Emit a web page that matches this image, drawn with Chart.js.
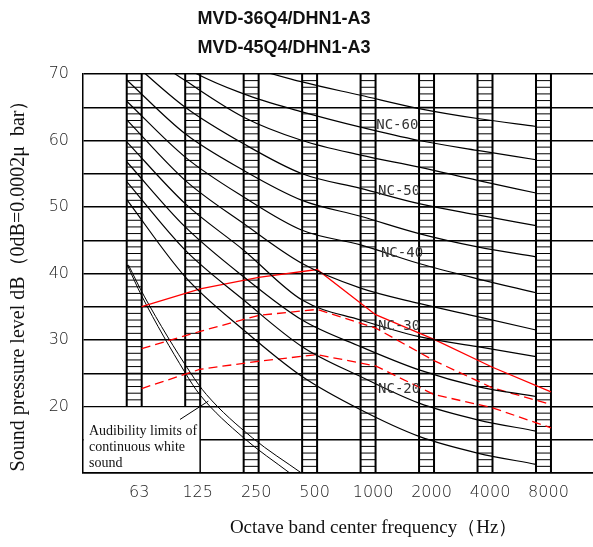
<!DOCTYPE html>
<html>
<head>
<meta charset="utf-8">
<script src="https://cdn.jsdelivr.net/npm/chart.js@4.4.1/dist/chart.umd.min.js"></script>
<style>
  html, body { margin: 0; padding: 0; background: #fff; }
  #wrap { width: 593px; height: 547px; }
</style>
</head>
<body>
<div id="wrap"><canvas id="myChart" width="593" height="547"></canvas></div>
<script>
const bands = ['63', '125', '250', '500', '1000', '2000', '4000', '8000'];

// NC curves as drawn on the sheet, dB per octave band
const nc15 = [51.1, 39.5, 31.5, 24.5, 19.5, 15.5, 13, 11.3];
const nc20 = [53.8, 43.5, 36, 29, 24.5, 20.5, 18, 16.3];
const nc25 = [56.8, 47, 39.5, 33, 29, 25.5, 23, 21.5];
const nc30 = [59.8, 50.5, 43.5, 36, 33, 30.5, 29, 27.5];
const nc35 = [63.1, 54, 47.5, 41.5, 37.8, 35.5, 33.5, 31.5];
const nc40 = [65.9, 57.5, 51.5, 46.5, 44.3, 41.5, 39.2, 37.1];
const nc45 = [69.1, 61, 55.5, 51, 48.6, 46, 44, 42.5];
const nc50 = [72.5, 65, 59.5, 55, 52.8, 50.5, 48.8, 47.2];
const nc55 = [75, 69, 63.5, 60, 57.8, 56, 54, 52.1];
const nc60 = [78, 71, 67, 64.3, 62, 60, 58.5, 57.1];
const nc65 = [82, 76.5, 71.5, 68.8, 66.8, 64.8, 63.3, 62.1];

// measured unit levels (red)
const levelHigh = [35.0, 37.7, 39.4, 40.6, 33.8, 30.1, 25.9, 22.2];
const levelMid = [28.7, 31.3, 33.7, 34.6, 31.8, 26.9, 22.8, 20.3];
const levelLow = [22.7, 25.6, 26.8, 27.8, 26.1, 21.8, 19.8, 16.8];

// audibility limits of continuous white sound (x in band units)
const audibleX1 = [-0.12, 0.13, 0.87, 1.12, 1.87, 2.66];
const audibleX2 = [-0.10, 0.17, 0.96, 1.235, 2.02, 2.86];
const audibleDb = [41.3, 36.6, 25.1, 21.8, 15.3, 10];
const leaderX = [0.783, 1.267];
const leaderDb = [18.05, 20.8];

const ncLabels = ['NC-60', 'NC-50', 'NC-40', 'NC-30', 'NC-20'];
const ncLabelX = [4.14, 4.17, 4.22, 4.17, 4.17];
const ncLabelDb = [62.3, 52.3, 43.1, 32.0, 22.6];
const boxText = ['Audibility limits of', 'continuous white', 'sound'];

const OFF = 0.128; // half width of a band column

const pts = (vals, dx) => vals.map((v, i) => ({ x: i + dx, y: v }));
const zip = (xs, ys) => xs.map((x, i) => ({ x: x, y: ys[i] }));

function ncSet(vals) {
    return {
        data: pts(vals, -OFF),
        borderColor: '#000',
        borderWidth: 1.2,
        cubicInterpolationMode: 'monotone',
        pointRadius: 0,
        fill: false
    };
}

function redSet(vals, dash) {
    return {
        data: pts(vals, OFF),
        borderColor: '#ff0000',
        borderWidth: 1.3,
        borderDash: dash,
        tension: 0,
        pointRadius: 0,
        fill: false
    };
}

const bandColumns = {
    id: 'bandColumns',
    beforeDatasetsDraw(chart) {
        const { ctx, chartArea, scales: { x, y } } = chart;
        ctx.save();
        ctx.strokeStyle = '#000';
        bands.forEach((b, i) => {
            const x0 = x.getPixelForValue(i - OFF);
            const x1 = x.getPixelForValue(i + OFF);
            const bottomDb = i < 2 ? 20 : 10;
            const yTop = y.getPixelForValue(70);
            const yBot = y.getPixelForValue(bottomDb);
            ctx.lineWidth = 1;
            for (let db = bottomDb + 1; db < 70; db++) {
                const yy = y.getPixelForValue(db);
                ctx.beginPath();
                ctx.moveTo(x0, yy);
                ctx.lineTo(x1, yy);
                ctx.stroke();
            }
            ctx.lineWidth = 2;
            ctx.beginPath();
            ctx.moveTo(x0, yTop); ctx.lineTo(x0, yBot);
            ctx.moveTo(x1, yTop); ctx.lineTo(x1, yBot);
            ctx.stroke();
        });

        // note box, lower left
        const bx = x.getPixelForValue(1 + OFF);
        const by = y.getPixelForValue(20);
        ctx.fillStyle = '#fff';
        ctx.fillRect(chartArea.left + 1, by + 1, bx - chartArea.left - 1, chartArea.bottom - by - 2);
        ctx.lineWidth = 1.5;
        ctx.beginPath();
        ctx.moveTo(bx, by);
        ctx.lineTo(bx, chartArea.bottom);
        ctx.stroke();
        ctx.fillStyle = '#111';
        ctx.font = '14px "Liberation Serif"';
        ctx.textBaseline = 'middle';
        boxText.forEach((t, k) => ctx.fillText(t, chartArea.left + 6, by + 25 + k * 16));
        ctx.restore();
    },
    afterDatasetsDraw(chart) {
        const { ctx, scales: { x, y } } = chart;
        ctx.save();
        ctx.fillStyle = '#333';
        ctx.font = '14px "DejaVu Sans Mono"';
        ctx.textBaseline = 'middle';
        ncLabels.forEach((t, k) => {
            ctx.fillText(t, x.getPixelForValue(ncLabelX[k]), y.getPixelForValue(ncLabelDb[k]));
        });
        ctx.restore();
    }
};

const ctx = document.getElementById('myChart').getContext('2d');
const chart = new Chart(ctx, {
    type: 'line',
    data: {
        datasets: [
            ncSet(nc15), ncSet(nc20), ncSet(nc25), ncSet(nc30), ncSet(nc35), ncSet(nc40),
            ncSet(nc45), ncSet(nc50), ncSet(nc55), ncSet(nc60), ncSet(nc65),
            redSet(levelHigh, []),
            redSet(levelMid, [9, 5]),
            redSet(levelLow, [9, 5]),
            { data: zip(audibleX1, audibleDb), borderColor: '#000', borderWidth: 1, cubicInterpolationMode: 'monotone', pointRadius: 0 },
            { data: zip(audibleX2, audibleDb), borderColor: '#000', borderWidth: 1, cubicInterpolationMode: 'monotone', pointRadius: 0 },
            { data: zip(leaderX, leaderDb), borderColor: '#000', borderWidth: 1, pointRadius: 0 }
        ]
    },
    options: {
        responsive: false,
        animation: false,
        layout: { padding: 0 },
        plugins: {
            legend: { display: false },
            tooltip: { enabled: false },
            title: {
                display: true,
                text: ['MVD-36Q4/DHN1-A3     ', 'MVD-45Q4/DHN1-A3     '],
                color: '#111',
                font: { family: 'Liberation Sans', size: 18, weight: 'bold', lineHeight: 1.61 },
                padding: { top: 4.5, bottom: 11.5 }
            }
        },
        scales: {
            x: {
                type: 'linear',
                min: -0.876,
                max: 7.847,
                bounds: 'data',
                grid: { display: false, drawTicks: false },
                border: { display: true, color: '#000', width: 1.5 },
                afterBuildTicks: s => { s.ticks = bands.map((b, i) => ({ value: i })); },
                afterFit: s => { s.height = 74; },
                ticks: {
                    callback: v => bands[v],
                    autoSkip: false,
                    maxRotation: 0,
                    labelOffset: 5,
                    padding: 10,
                    color: '#222',
                    font: { family: 'DejaVu Sans', size: 16, weight: 200 }
                },
                title: {
                    display: true,
                    text: ' '.repeat(15) + 'Octave band center frequency（Hz）',
                    color: '#111',
                    font: { family: 'Liberation Serif', size: 19 },
                    padding: { top: 0, bottom: 8 }
                }
            },
            y: {
                min: 10,
                max: 70,
                grid: { color: '#000', lineWidth: 1.4, drawTicks: false },
                border: { color: '#000', width: 1.5 },
                afterFit: s => { s.width = 83; },
                ticks: {
                    stepSize: 5,
                    callback: v => (v % 10 === 0 && v > 10 ? v : ''),
                    padding: 14,
                    color: '#222',
                    font: { family: 'DejaVu Sans', size: 16, weight: 200 }
                },
                title: {
                    display: true,
                    text: 'Sound pressure level dB（0dB=0.0002μ  bar）   ',
                    color: '#111',
                    font: { family: 'Liberation Serif', size: 20 },
                    padding: { top: 7, bottom: 0 }
                }
            }
        }
    },
    plugins: [bandColumns]
});
</script>
</body>
</html>
